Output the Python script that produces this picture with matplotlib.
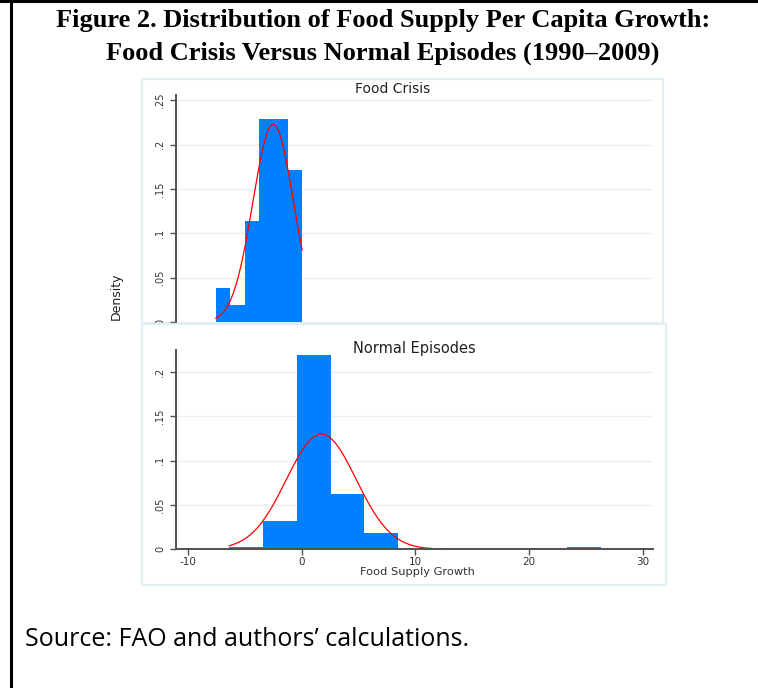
import numpy as np
import matplotlib.pyplot as plt
from matplotlib.patches import Rectangle
from matplotlib.lines import Line2D

W, H = 758, 688

# histogram bins (food supply growth, %) and densities
crisis_start, crisis_width = -7.55, 1.265
crisis_density = [0.038, 0.019, 0.114, 0.229, 0.229, 0.171]
crisis_mu, crisis_sd = -2.50, 1.79

normal_start, normal_width = -6.37, 2.97
normal_density = [0.0023, 0.032, 0.219, 0.0625, 0.018, 0, 0, 0, 0, 0, 0.0023]
normal_mu, normal_sd = 1.73, 3.07

x_ticks = [-10, 0, 10, 20, 30]
crisis_yticks = [0, 0.05, 0.1, 0.15, 0.2, 0.25]
crisis_ylabels = ["0", ".05", ".1", ".15", ".2", ".25"]
normal_yticks = [0, 0.05, 0.1, 0.15, 0.2]
normal_ylabels = ["0", ".05", ".1", ".15", ".2"]

bar_col = "#0080ff"
grid_col = "#eaf1f4"
axis_col = "#505050"
tick_font = ["DejaVu Sans"]


def px_axes(fig, x0, y0, x1, y1, **kw):
    # pixel box (top-left origin) -> figure fraction axes
    return fig.add_axes([x0 / W, 1 - y1 / H, (x1 - x0) / W, (y1 - y0) / H], **kw)


def normal_pdf(x, mu, sd):
    return np.exp(-0.5 * ((x - mu) / sd) ** 2) / (sd * np.sqrt(2 * np.pi))


def draw_hist(ax, start, width, dens, mu, sd, ylim, yticks, ylabels):
    edges = start + width * np.arange(len(dens))
    ax.bar(edges, dens, width=width, align="edge", color=bar_col,
           linewidth=0, zorder=2)
    xs = np.linspace(start, start + width * len(dens), 400)
    ax.plot(xs, normal_pdf(xs, mu, sd), color="red", lw=0.9, zorder=2.2)
    ax.set_xlim(-11.05, 30.9)
    ax.set_ylim(*ylim)
    ax.set_yticks(yticks)
    ax.set_yticklabels(ylabels, rotation=90, va="center", family=tick_font,
                       fontsize=7, color="#333333")
    for y in yticks[1:]:
        ax.axhline(y, color=grid_col, lw=1.0, zorder=1)
    for s in ["top", "right"]:
        ax.spines[s].set_visible(False)
    ax.spines["left"].set_color(axis_col)
    ax.spines["left"].set_linewidth(1.4)
    ax.tick_params(axis="y", length=4, width=1, color=axis_col, pad=4)
    ax.patch.set_alpha(0)


fig = plt.figure(figsize=(W / 100, H / 100), dpi=100)

# panel frames
fig.patches.append(Rectangle((142 / W, 1 - 323 / H), 521 / W, 244 / H,
                             transform=fig.transFigure, facecolor="white",
                             edgecolor="#e4edf1", lw=1.6, zorder=0))

ax1 = px_axes(fig, 176, 95, 653, 322, zorder=1)
draw_hist(ax1, crisis_start, crisis_width, crisis_density, crisis_mu, crisis_sd,
          (0, 0.256), crisis_yticks, crisis_ylabels)
ax1.spines["bottom"].set_visible(False)
ax1.set_xticks([])

fig.patches.append(Rectangle((142 / W, 1 - 585 / H), 524 / W, 261 / H,
                             transform=fig.transFigure, facecolor="white",
                             edgecolor="#e4edf1", lw=1.6, zorder=1.5))

ax2 = px_axes(fig, 176, 350, 653, 549.3, zorder=2)
draw_hist(ax2, normal_start, normal_width, normal_density, normal_mu, normal_sd,
          (0, 0.2248), normal_yticks, normal_ylabels)
ax2.set_xticks(x_ticks)
ax2.set_xticklabels([str(t) for t in x_ticks], family=tick_font, fontsize=7.5,
                    color="#333333")
ax2.spines["bottom"].set_color(axis_col)
ax2.spines["bottom"].set_linewidth(1.4)
ax2.tick_params(axis="x", length=4, width=1, color=axis_col, pad=1.5)

fig.text(355 / W, 1 - 89 / H, "Food Crisis", ha="left", va="center",
         family=["DejaVu Sans"], fontsize=10, color="#222222")
fig.text(353 / W, 1 - 348 / H, "Normal Episodes", ha="left", va="center",
         family=["DejaVu Sans"], fontsize=10.5, color="#222222")
fig.text(417 / W, 1 - 572 / H, "Food Supply Growth", ha="center", va="center",
         family=tick_font, fontsize=8.2, color="#333333", zorder=5)
fig.text(116 / W, 1 - 296 / H, "Density", ha="center", va="center", rotation=90,
         family=["Liberation Sans Narrow", "DejaVu Sans"], fontsize=9,
         color="#222222")

# title and source note
fig.text(383 / W, 1 - 20 / H, "Figure 2. Distribution of Food Supply Per Capita Growth:",
         ha="center", va="center", family=["Liberation Serif", "DejaVu Serif"],
         fontweight="bold", fontsize=19)
fig.text(383 / W, 1 - 53 / H, "Food Crisis Versus Normal Episodes (1990\u20132009)",
         ha="center", va="center", family=["Liberation Serif", "DejaVu Serif"],
         fontweight="bold", fontsize=19)
fig.text(25 / W, 1 - 639 / H, "Source: FAO and authors\u2019 calculations.",
         ha="left", va="center", family=["Open Sans", "DejaVu Sans"], fontsize=18)

# outer frame: top and left rules
fig.add_artist(Line2D([0, 1], [1 - 1 / H, 1 - 1 / H], transform=fig.transFigure,
                      color="black", lw=2.2))
fig.add_artist(Line2D([10.5 / W, 10.5 / W], [0, 1], transform=fig.transFigure,
                      color="black", lw=2.2))

fig.savefig("out.png", dpi=100)
